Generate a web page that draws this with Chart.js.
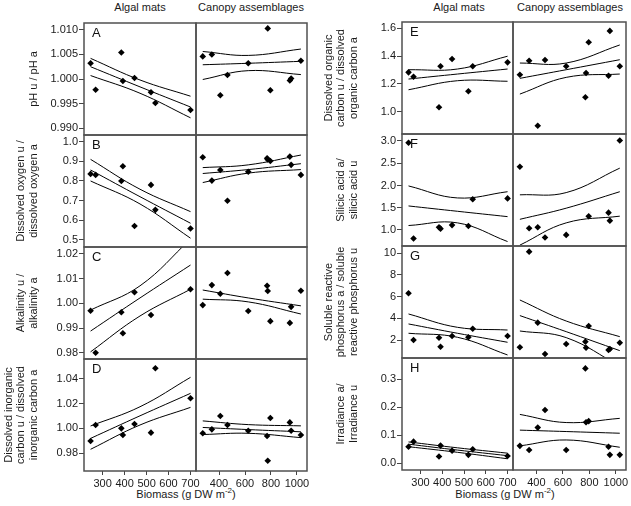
<!DOCTYPE html>
<html>
<head>
<meta charset="utf-8">
<script src="https://cdn.jsdelivr.net/npm/chart.js@4"></script>
<style>
  body { margin: 0; width: 631px; height: 506px; position: relative; overflow: hidden; background: #fff;
         font-family: "Liberation Sans", Arial, sans-serif; color: #1a1a1a; }
  .lbl { position: absolute; font-size: 11px; line-height: 13px; white-space: nowrap; transform: translateX(-50%); }
  .lbl sup { font-size: 8px; vertical-align: 5px; line-height: 0; }
</style>
</head>
<body>
<div class="lbl" style="left:140px;top:1px">Algal mats</div>
<div class="lbl" style="left:251px;top:1px">Canopy assemblages</div>
<div class="lbl" style="left:459px;top:1px">Algal mats</div>
<div class="lbl" style="left:570px;top:1px">Canopy assemblages</div>
<div class="lbl" style="left:186px;top:488px">Biomass (g DW m<sup>-2</sup>)</div>
<div class="lbl" style="left:505px;top:488px">Biomass (g DW m<sup>-2</sup>)</div>
<script>
// biomass of each site (x values)
const algalBiomass = [245, 268, 385, 392, 445, 520, 540, 700];
const canopyBiomass = [275, 345, 410, 465, 625, 770, 775, 795, 945, 955, 1030];
const algalFitX = [245, 470, 700];
const canopyFitX = [275, 625, 1030];
const algalTicks = [300, 400, 500, 600, 700];
const canopyTicks = [400, 600, 800, 1000];

// A: pH
const phTicks = [0.990, 0.995, 1.000, 1.005, 1.010];
const phAlgal = [1.0032, 0.9978, 1.0054, 0.9996, 1.0002, 0.9973, 0.9951, 0.9937];
const phCanopy = [1.0046, 1.0050, 0.9967, 1.0008, 1.0032, null, 1.0103, 0.9977, 0.9997, 1.0001, 1.0037];
const phAlgalFit = [[1.0042, 0.9998, 0.9965], [1.0025, 0.9984, 0.9943], [1.0007, 0.9971, 0.9921]];
const phCanopyFit = [[1.0056, 1.0048, 1.0061], [1.0029, 1.0032, 1.0036], [0.9999, 1.0017, 1.0009]];

// B: dissolved oxygen
const oxTicks = [0.5, 0.6, 0.7, 0.8, 0.9, 1.0];
const oxAlgal = [0.836, 0.831, 0.800, 0.875, 0.571, 0.780, 0.653, 0.558];
const oxCanopy = [0.921, 0.802, 0.856, 0.699, 0.847, 0.916, 0.909, 0.902, 0.924, 0.882, 0.831];
const oxAlgalFit = [[0.910, 0.758, 0.644], [0.856, 0.720, 0.585], [0.800, 0.683, 0.509]];
const oxCanopyFit = [[0.868, 0.882, 0.932], [0.838, 0.858, 0.888], [0.792, 0.840, 0.858]];

// C: alkalinity
const alkTicks = [0.98, 0.99, 1.00, 1.01, 1.02];
const alkAlgal = [0.9970, 0.9800, 0.9964, 0.9879, 1.0045, 0.9953, null, 1.0057];
const alkCanopy = [0.9993, 1.0074, 1.0039, 1.0123, 0.9969, 1.0071, 1.0050, 0.9928, 0.9921, 0.9986, 1.0051];
const alkAlgalFit = [[0.9973, 1.0071, 1.0260], [0.9888, 1.0022, 1.0155], [0.9804, 0.9949, 1.0057]];
const alkCanopyFit = [[1.0054, 1.0022, 0.9990], [1.0017, 1.0006, 0.9957]];

// D: dissolved inorganic carbon
const dicTicks = [0.98, 1.00, 1.02, 1.04];
const dicAlgal = [0.9898, 1.0027, 1.0000, 0.9946, 1.0035, 0.9965, 1.0484, 1.0242];
const dicCanopy = [0.9960, 0.9992, 1.0099, 1.0027, 0.9981, 0.9938, 0.9739, 1.0083, 1.0048, 0.9981, 0.9946];
const dicAlgalFit = [[1.0019, 1.0174, 1.0411], [0.9919, 1.0101, 1.0282], [0.9831, 1.0027, 1.0169]];
const dicCanopyFit = [[1.0060, 1.0030, 1.0020], [1.0007, 0.9990, 0.9972], [0.9950, 0.9960, 0.9925]];

// E: dissolved organic carbon
const docTicks = [1.0, 1.2, 1.4, 1.6];
const docAlgal = [1.283, 1.252, 1.032, 1.327, 1.379, 1.147, 1.327, 1.355];
const docCanopy = [1.266, 1.367, 0.899, 1.372, 1.327, 1.104, 1.278, 1.499, 1.259, 1.581, 1.327];
const docAlgalFit = [[1.302, 1.307, 1.399], [1.235, 1.271, 1.307], [1.158, 1.223, 1.219]];
const docCanopyFit = [[1.350, 1.350, 1.480], [1.240, 1.302, 1.374], [1.127, 1.247, 1.271]];

// F: silicic acid
const siTicks = [1.0, 1.5, 2.0, 2.5, 3.0];
const siAlgal = [2.96, 0.81, 1.06, 1.03, 1.11, 1.09, 1.69, 1.71];
const siCanopy = [2.42, 1.04, 1.06, 0.83, 0.89, null, null, 1.31, 1.39, 1.21, 3.01];
const siAlgalFit = [[1.99, 1.72, 1.86], [1.54, 1.42, 1.30], [1.10, 1.16, 0.74]];
const siCanopyFit = [[1.79, 1.84, 2.39], [1.24, 1.49, 1.86], [0.66, 1.16, 1.31]];

// G: soluble reactive phosphorus
const srpTicks = [2, 4, 6, 8, 10];
const srpAlgal = [6.31, 2.00, 2.21, 1.38, 2.37, 2.25, 3.04, 2.37];
const srpCanopy = [1.33, 10.15, 3.60, 0.71, 1.63, 1.85, 1.29, 3.29, 1.08, 1.17, 1.75];
const srpAlgalFit = [[4.40, 3.17, 2.92], [3.48, 2.62, 1.79], [2.62, 2.25, 0.62]];
const srpCanopyFit = [[5.69, 3.75, 2.31], [4.25, 2.77, 1.02], [2.83, 2.22, -0.40]];

// H: irradiance
const irrTicks = [0.0, 0.1, 0.2, 0.3];
const irrAlgal = [0.059, 0.077, 0.024, 0.063, 0.045, 0.030, 0.050, 0.026];
const irrCanopy = [0.062, 0.047, 0.127, 0.190, 0.047, 0.338, 0.146, 0.150, 0.059, 0.030, 0.030];
const irrAlgalFit = [[0.076, 0.055, 0.036], [0.068, 0.047, 0.027], [0.059, 0.039, 0.016]];
const irrCanopyFit = [[0.174, 0.145, 0.160], [0.118, 0.113, 0.107], [0.062, 0.083, 0.057]];

const algalRange = [215, 725];
const canopyRange = [223, 1077];

const panels = [
  { letter: 'A', group: 0, row: 0, title: ['pH u / pH a'], ticks: phTicks, dec: 3, range: [0.9886, 1.0114],
    algal: phAlgal, canopy: phCanopy, algalFit: phAlgalFit, canopyFit: phCanopyFit },
  { letter: 'B', group: 0, row: 1, title: ['Dissolved oxygen u /', 'dissolved oxygen a'], ticks: oxTicks, dec: 1, range: [0.464, 1.034],
    algal: oxAlgal, canopy: oxCanopy, algalFit: oxAlgalFit, canopyFit: oxCanopyFit },
  { letter: 'C', group: 0, row: 2, title: ['Alkalinity u /', 'alkalinity a'], ticks: alkTicks, dec: 2, range: [0.9775, 1.0228],
    algal: alkAlgal, canopy: alkCanopy, algalFit: alkAlgalFit, canopyFit: alkCanopyFit },
  { letter: 'D', group: 0, row: 3, title: ['Dissolved inorganic', 'carbon u / dissolved', 'inorganic carbon a'], ticks: dicTicks, dec: 2, range: [0.9656, 1.0559],
    algal: dicAlgal, canopy: dicCanopy, algalFit: dicAlgalFit, canopyFit: dicCanopyFit },
  { letter: 'E', group: 1, row: 0, title: ['Dissolved organic', 'carbon u / dissolved', 'organic carbon a'], ticks: docTicks, dec: 1, range: [0.84, 1.645],
    algal: docAlgal, canopy: docCanopy, algalFit: docAlgalFit, canopyFit: docCanopyFit },
  { letter: 'F', group: 1, row: 1, title: ['Silicic acid a/', 'silicic acid u'], ticks: siTicks, dec: 1, range: [0.64, 3.157],
    algal: siAlgal, canopy: siCanopy, algalFit: siAlgalFit, canopyFit: siCanopyFit },
  { letter: 'G', group: 1, row: 2, title: ['Soluble reactive', 'phosphorus a / soluble', 'reactive phosphorus u'], ticks: srpTicks, dec: 0, range: [0.34, 10.67],
    algal: srpAlgal, canopy: srpCanopy, algalFit: srpAlgalFit, canopyFit: srpCanopyFit },
  { letter: 'H', group: 1, row: 3, title: ['Irradiance a/', 'Irradiance u'], ticks: irrTicks, dec: 1, range: [-0.024, 0.375],
    algal: irrAlgal, canopy: irrCanopy, algalFit: irrAlgalFit, canopyFit: irrCanopyFit },
];

// page layout of the two panel groups
const groupGeo = [
  { left: 0, algal: [84, 196], canopy: [196, 307], rows: [23, 135, 247, 359, 471] },
  { left: 320, algal: [402, 513], canopy: [513, 626], rows: [22, 134, 246, 358, 470] },
];

const FONT = '"Liberation Sans", Arial, sans-serif';
Chart.defaults.font.family = FONT;
Chart.defaults.font.size = 11;
Chart.defaults.color = '#1a1a1a';

const M = 12, XAXIS_H = 30, LH = 12.3, TITLE_LAST_X = 33.5;

// panel frame + panel letter
const framePlugin = {
  id: 'frame',
  afterDatasetsDraw(chart, args, opts) {
    const { ctx, chartArea: a } = chart;
    ctx.save();
    ctx.strokeStyle = '#505050';
    ctx.lineWidth = 1.5;
    ctx.strokeRect(a.left, a.top, a.right - a.left, a.bottom - a.top);
    if (opts.letter) {
      ctx.fillStyle = '#111';
      ctx.font = '13px ' + FONT;
      ctx.textBaseline = 'top';
      ctx.fillText(opts.letter, a.left + 8, a.top + 4);
    }
    ctx.restore();
  }
};

function makePanel(def, kind) {
  const g = groupGeo[def.group];
  const [pl, pr] = g[kind];
  const pt = g.rows[def.row], pb = g.rows[def.row + 1];
  const bottom = def.row === 3;
  const isAlgal = kind === 'algal';

  const cl = isAlgal ? g.left : pl - M;
  const ct = pt - M;
  const cw = pr + M - cl;
  const ch = (bottom ? pb + XAXIS_H : pb + M) - ct;
  const cv = document.createElement('canvas');
  cv.width = cw; cv.height = ch;
  cv.style.cssText = `position:absolute;left:${cl}px;top:${ct}px;width:${cw}px;height:${ch}px`;
  document.body.appendChild(cv);

  const xs = isAlgal ? algalBiomass : canopyBiomass;
  const ys = def[kind];
  const fitX = isAlgal ? algalFitX : canopyFitX;
  const fits = def[kind + 'Fit'];
  const xTicks = isAlgal ? algalTicks : canopyTicks;
  const xRange = isAlgal ? algalRange : canopyRange;

  const datasets = fits.map(f => ({
    type: 'line', showLine: true, fill: false,
    data: fitX.map((x, i) => ({ x, y: f[i] })),
    borderColor: '#000', borderWidth: 1, pointRadius: 0, tension: 0.4
  }));
  datasets.push({
    type: 'scatter',
    data: xs.map((x, i) => ({ x, y: ys[i] })).filter(p => p.y !== null),
    pointStyle: 'rectRot', pointRadius: 3.3,
    backgroundColor: '#000', borderColor: '#000', borderWidth: 0
  });

  const n = def.title.length;
  new Chart(cv, {
    type: 'scatter',
    data: { datasets },
    options: {
      responsive: false, animation: false, events: [],
      layout: { padding: { left: isAlgal ? 0 : M, right: M, top: M, bottom: bottom ? 0 : M } },
      plugins: { legend: { display: false }, tooltip: { enabled: false }, frame: { letter: isAlgal ? def.letter : '' } },
      scales: {
        x: {
          type: 'linear', min: xRange[0], max: xRange[1], display: bottom,
          afterBuildTicks: s => { s.ticks = xTicks.map(v => ({ value: v })); },
          afterFit: s => { if (bottom) s.height = XAXIS_H; },
          grid: { drawOnChartArea: false, tickLength: 4, color: '#444' },
          border: { display: false },
          ticks: { padding: 2, maxRotation: 0, autoSkip: false, callback: v => String(v) }
        },
        y: {
          type: 'linear', min: def.range[0], max: def.range[1], display: isAlgal,
          afterBuildTicks: s => { s.ticks = def.ticks.map(v => ({ value: v })); },
          afterFit: s => { if (isAlgal) s.width = pl - g.left; },
          grid: { drawOnChartArea: false, tickLength: 5, color: '#444' },
          border: { display: false },
          ticks: { padding: 1, autoSkip: false, callback: v => v.toFixed(def.dec) },
          title: {
            display: true, text: def.title, color: '#1a1a1a',
            font: { size: 11, lineHeight: 1.12 },
            padding: { top: TITLE_LAST_X - (n - 1) * LH - LH / 2, bottom: 0 }
          }
        }
      }
    },
    plugins: [framePlugin]
  });
}

panels.forEach(p => { makePanel(p, 'algal'); makePanel(p, 'canopy'); });
</script>
</body>
</html>
